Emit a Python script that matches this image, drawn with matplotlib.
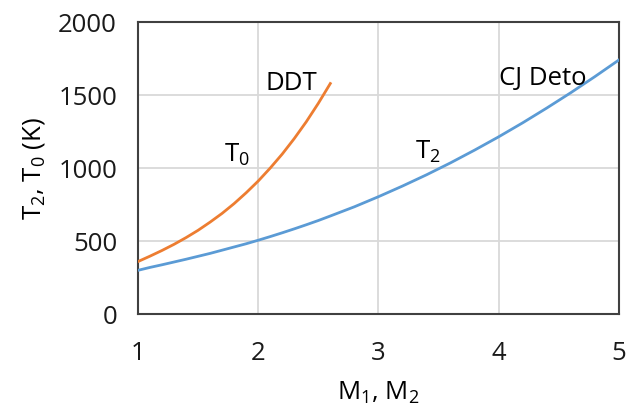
import matplotlib
matplotlib.use('Agg')
import matplotlib.pyplot as plt

# Orange curve (T0, DDT)
m_ddt = [1.0, 1.1, 1.2, 1.3, 1.4, 1.5, 1.6, 1.7, 1.8, 1.9, 2.0, 2.1, 2.2, 2.3, 2.4, 2.5, 2.6]
t0_ddt = [360, 397, 436, 478, 524, 574, 630, 690, 757, 831, 911, 1000, 1096, 1202, 1317, 1443, 1579]

# Blue curve (T2, CJ detonation)
m_cj = [1.0, 1.1, 1.2, 1.3, 1.4, 1.5, 1.6, 1.7, 1.8, 1.9, 2.0, 2.1, 2.2, 2.3, 2.4, 2.5, 2.6,
        2.8, 3.0, 3.2, 3.4, 3.6, 3.8, 4.0, 4.2, 4.4, 4.6, 4.8, 5.0]
t2_cj = [300, 320, 338, 357, 376, 396, 416, 438, 460, 482, 506, 531, 557, 584, 612, 641, 672,
         735, 804, 877, 954, 1036, 1123, 1214, 1310, 1411, 1516, 1626, 1740]

plt.rcParams['font.family'] = ['Open Sans', 'DejaVu Sans']
plt.rcParams['mathtext.default'] = 'regular'

fs = 18.5
fig = plt.figure(figsize=(6.27, 4.08), dpi=100)
ax = fig.add_axes([0.220, 0.230, 0.767, 0.716])

ax.plot(m_cj, t2_cj, color='#5B9BD5', lw=2.0, zorder=3)
ax.plot(m_ddt, t0_ddt, color='#ED7D31', lw=2.0, zorder=3)

ax.set_xlim(1, 5)
ax.set_ylim(0, 2000)
ax.set_xticks([1, 2, 3, 4, 5])
ax.set_yticks([0, 500, 1000, 1500, 2000])
ax.grid(True, color='#d9d9d9', lw=1.3)
ax.set_axisbelow(True)
ax.tick_params(length=0, labelsize=fs, colors='#1a1a1a')
ax.tick_params(axis='x', pad=19)
ax.tick_params(axis='y', pad=15)
for s in ax.spines.values():
    s.set_color('#404040')
    s.set_linewidth(1.5)

ax.set_xlabel(r'M$_1$, M$_2$', fontsize=fs, labelpad=10)
ax.set_ylabel(r'T$_2$, T$_0$ (K)', fontsize=fs, labelpad=8)

ax.text(2.28, 1582, 'DDT', fontsize=fs, ha='center', va='center')
ax.text(1.82, 1090, r'T$_0$', fontsize=fs, ha='center', va='center')
ax.text(3.41, 1110, r'T$_2$', fontsize=fs, ha='center', va='center')
ax.text(4.37, 1616, 'CJ Deto', fontsize=fs, ha='center', va='center')

fig.savefig('out.png', dpi=100)
